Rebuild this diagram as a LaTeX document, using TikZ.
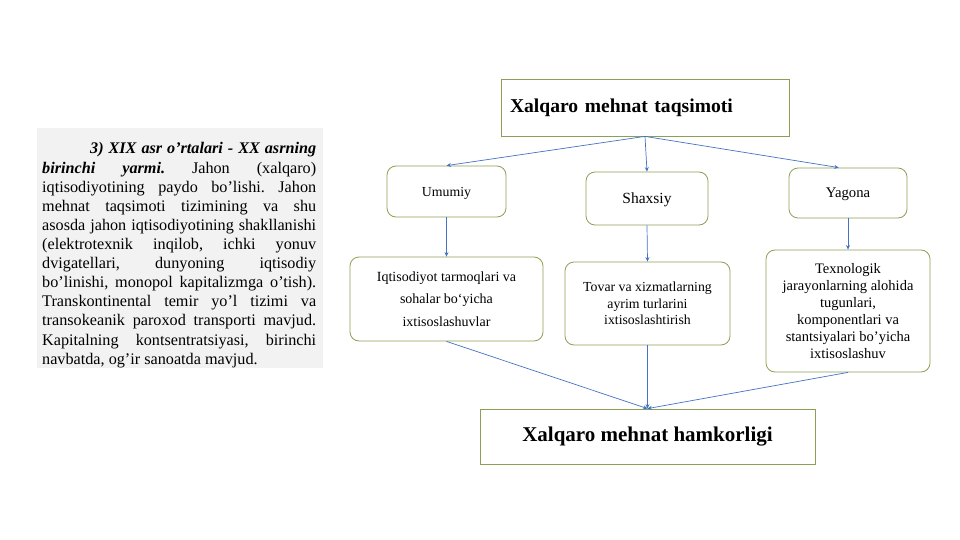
\documentclass[tikz,border=0pt]{standalone}
\usepackage{fontspec}
\setmainfont{Liberation Serif}
\usetikzlibrary{arrows.meta}
\definecolor{boxline}{RGB}{140,160,85}
\definecolor{linkblue}{RGB}{68,114,196}
\definecolor{notebg}{RGB}{242,242,242}
\newcommand{\fs}[2]{\fontsize{#1}{#2}\selectfont}
\frenchspacing

\begin{document}
\begin{tikzpicture}[x=1pt,y=-1pt,>={Stealth[length=4.5pt,width=4pt]},
    box/.style={draw=boxline,line width=0.8pt,inner sep=0pt,align=center},
    rbox/.style={box,rounded corners=9pt},
    link/.style={->,draw=linkblue,line width=0.7pt}]
  \useasboundingbox (0,0) rectangle (960,540);
  \fill[notebg] (37,128) rectangle (323,368);
  \node[anchor=base west,text width=274pt,align=justify,inner sep=0pt,font=\fs{16.2}{19.1}] (izoh) at (42,154)
    {\hspace*{48pt}\textbf{\textit{3) XIX asr o'rtalari - XX asrning}}\linebreak
     \textbf{\textit{birinchi yarmi.}} Jahon (xalqaro)\linebreak
     iqtisodiyotining paydo bo'lishi. Jahon\linebreak
     mehnat taqsimoti tizimining va shu\linebreak
     asosda jahon iqtisodiyotining shakllanishi\linebreak
     (elektrotexnik inqilob, ichki yonuv\linebreak
     dvigatellari, dunyoning iqtisodiy\linebreak
     bo'linishi, monopol kapitalizmga o'tish).\linebreak
     Transkontinental temir yo'l tizimi va\linebreak
     transokeanik paroxod transporti mavjud.\linebreak
     Kapitalning kontsentratsiyasi, birinchi\linebreak
     navbatda, og'ir sanoatda mavjud.};
  \node[box,minimum width=288,minimum height=57,text width=270pt,align=left,font=\bfseries\fs{19.6}{24}] (taqsimot) at (645,107.5) {Xalqaro mehnat taqsimoti};
  \node[rbox,text depth=0pt,minimum width=119,minimum height=51,font=\fs{13.8}{16}] (umumiy) at (446.5,191.5) {Umumiy};
  \node[rbox,text depth=0pt,minimum width=122,minimum height=53,font=\fs{15.5}{18}] (shaxsiy) at (647,198.5) {Shaxsiy};
  \node[rbox,text depth=0pt,minimum width=118,minimum height=50,font=\fs{14.7}{17}] (yagona) at (848,193) {Yagona};
  \node[rbox,minimum width=193,minimum height=84,font=\fs{14}{22.5}] (tarmoq) at (446.5,299) {Iqtisodiyot tarmoqlari va\\sohalar bo‘yicha\\ixtisoslashuvlar};
  \node[rbox,minimum width=165,minimum height=83,font=\fs{13.8}{16.5}] (tovar) at (647.5,303.5) {Tovar va xizmatlarning\\ayrim turlarini\\ixtisoslashtirish};
  \node[rbox,minimum width=164,minimum height=122,font=\fs{14.5}{17}] (texno) at (848,311) {Texnologik\\jarayonlarning alohida\\tugunlari,\\komponentlari va\\stantsiyalari bo'yicha\\ixtisoslashuv};
  \node[box,minimum width=335,minimum height=55,font=\bfseries\fs{21}{25}] (hamkor) at (647.5,436.5) {Xalqaro mehnat hamkorligi};
  \draw[link] (taqsimot.south) -- (umumiy.north);
  \draw[link] (taqsimot.south) -- (shaxsiy.north);
  \draw[link] (taqsimot.south) -- (yagona.110);
  \draw[link] (umumiy.south) -- (tarmoq.north);
  \draw[link] (shaxsiy.south) -- (tovar.north);
  \draw[link] (yagona.south) -- (texno.north);
  \draw[link] (tarmoq.south) -- (hamkor.north);
  \draw[link] (tovar.south) -- (hamkor.north);
  \draw[link] (texno.south) -- (hamkor.north);
\end{tikzpicture}
\end{document}
